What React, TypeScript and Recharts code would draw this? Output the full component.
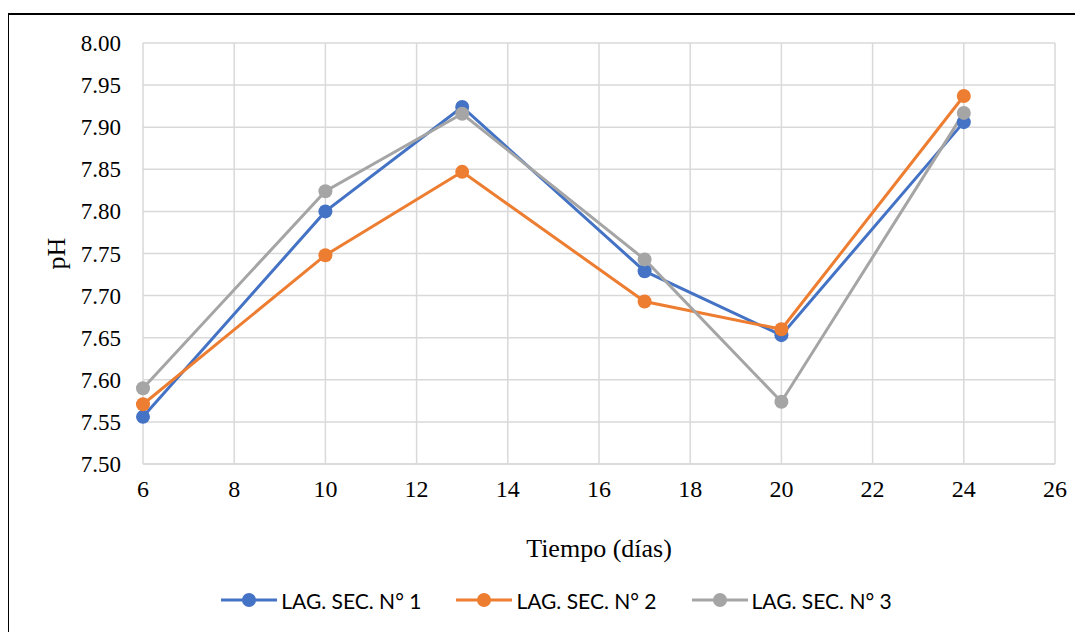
import { LineChart, Line, XAxis, YAxis, CartesianGrid, Legend } from "recharts";

const days = [6, 10, 13, 17, 20, 24];
const lag1 = [7.556, 7.8, 7.924, 7.729, 7.653, 7.906];
const lag2 = [7.571, 7.748, 7.847, 7.693, 7.66, 7.937];
const lag3 = [7.59, 7.824, 7.916, 7.743, 7.574, 7.917];

const xTicks = [6, 8, 10, 12, 14, 16, 18, 20, 22, 24, 26];
const yTicks = [7.5, 7.55, 7.6, 7.65, 7.7, 7.75, 7.8, 7.85, 7.9, 7.95, 8.0];

const SERIES = [
  { key: "lag1", name: "LAG. SEC. N° 1", color: "#4472C4" },
  { key: "lag2", name: "LAG. SEC. N° 2", color: "#ED7D31" },
  { key: "lag3", name: "LAG. SEC. N° 3", color: "#A5A5A5" },
];

const data = days.map((d, i) => ({
  day: d,
  lag1: lag1[i],
  lag2: lag2[i],
  lag3: lag3[i],
}));

const serif = "'Liberation Serif', 'Times New Roman', serif";

const renderXTick = (props: any) => {
  const { x, y, payload } = props;
  return (
    <text
      key={`xt-${payload.value}`}
      x={x}
      y={y + 33}
      textAnchor="middle"
      fill="#000"
      style={{ fontFamily: serif, fontSize: 24 }}
    >
      {payload.value}
    </text>
  );
};

const renderYTick = (props: any) => {
  const { x, y, payload } = props;
  return (
    <text
      key={`yt-${payload.value}`}
      x={x}
      y={y + 8}
      textAnchor="end"
      fill="#000"
      style={{ fontFamily: serif, fontSize: 23 }}
    >
      {Number(payload.value).toFixed(2)}
    </text>
  );
};

function LegendContent() {
  return (
    <div
      style={{
        display: "flex",
        justifyContent: "center",
        gap: 35,
        paddingLeft: 58,
        fontFamily: "Lato, 'Open Sans', sans-serif",
        fontSize: 21,
        color: "#000",
        height: 30,
        alignItems: "center",
      }}
    >
      {SERIES.map((s) => (
        <div key={s.key} style={{ display: "flex", alignItems: "center" }}>
          <svg width={56} height={16} style={{ marginRight: 4 }}>
            <line x1={0} y1={8} x2={56} y2={8} stroke={s.color} strokeWidth={3} />
            <circle cx={28} cy={8} r={7} fill={s.color} />
          </svg>
          <span>{s.name}</span>
        </div>
      ))}
    </div>
  );
}

export default function App() {
  return (
    <div
      style={{
        position: "relative",
        width: 1083,
        height: 632,
        marginLeft: -8,
        marginTop: -8,
        overflow: "hidden",
        background: "#fff",
      }}
    >
      <div
        style={{
          position: "absolute",
          left: 7,
          top: 13,
          width: 1200,
          height: 700,
          borderTop: "2px solid #000",
          borderLeft: "2px solid #000",
        }}
      />
      <div style={{ position: "absolute", left: 0, top: 0 }}>
        <LineChart
          width={1083}
          height={632}
          data={data}
          margin={{ top: 43, right: 28, left: 0, bottom: 17 }}
        >
          <CartesianGrid stroke="#d9d9d9" strokeWidth={1.5} />
          <XAxis
            dataKey="day"
            type="number"
            domain={[6, 26]}
            ticks={xTicks}
            interval={0}
            height={121}
            tickLine={false}
            axisLine={{ stroke: "#d9d9d9", strokeWidth: 1.5 }}
            tickSize={0}
            tickMargin={0}
            tick={renderXTick}
            label={{
              value: "Tiempo (días)",
              position: "insideBottom",
              offset: 28,
              fill: "#000",
              fontFamily: serif,
              fontSize: 26,
            }}
          />
          <YAxis
            type="number"
            domain={[7.5, 8.0]}
            ticks={yTicks}
            interval={0}
            width={143}
            tickLine={false}
            axisLine={false}
            tickSize={0}
            tickMargin={22}
            tick={renderYTick}
            label={{
              value: "pH",
              angle: -90,
              position: "center",
              dx: -16,
              fill: "#000",
              fontFamily: serif,
              fontSize: 26,
            }}
          />
          <Legend verticalAlign="bottom" height={30} content={<LegendContent />} />
          {SERIES.map((s) => (
            <Line
              key={s.key}
              dataKey={s.key}
              name={s.name}
              stroke={s.color}
              strokeWidth={3}
              dot={{ r: 7, fill: s.color, stroke: s.color, strokeWidth: 0 }}
              activeDot={false}
              isAnimationActive={false}
            />
          ))}
        </LineChart>
      </div>
    </div>
  );
}
